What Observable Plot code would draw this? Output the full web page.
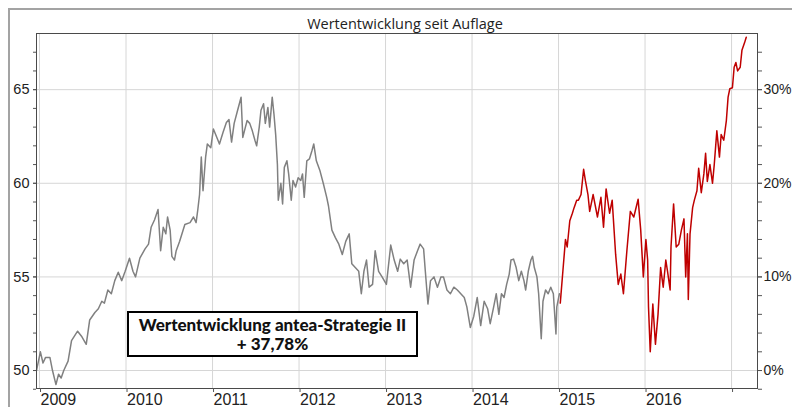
<!DOCTYPE html>
<html>
<head>
<meta charset="utf-8">
<script src="https://cdn.jsdelivr.net/npm/d3@7"></script>
<script src="https://cdn.jsdelivr.net/npm/@observablehq/plot@0.6"></script>
<style>
  html, body { margin: 0; padding: 0; background: #fff; }
  #wrap { position: relative; width: 792px; height: 407px; overflow: hidden; }
  #outer { position: absolute; left: 8px; top: 8px; width: 800px; height: 420px; border: 2px solid #a3a3a3; box-sizing: border-box; pointer-events: none; }
  #note { position: absolute; left: 127px; top: 311px; width: 291px; height: 46px; box-sizing: border-box;
          border: 2px solid #000; background: #fff; text-align: center;
          font-family: Lato, 'Open Sans', sans-serif; font-weight: 900; font-size: 17px; line-height: 19px; padding-top: 2px; color: #111; }
</style>
</head>
<body>
<div id="wrap"></div>
<script>
// ---- data ----
const titleText = "Wertentwicklung seit Auflage";
const noteLines = ["Wertentwicklung antea-Strategie II", "+ 37,78%"];

const yearTicks = [2009, 2010, 2011, 2012, 2013, 2014, 2015, 2016, 2017];
const yearLabels = ["2009", "2010", "2011", "2012", "2013", "2014", "2015", "2016", ""];
const valueTicks = [50, 55, 60, 65];
const pctLabels = ["0%", "10%", "20%", "30%"];
const minorTicks = [49, 50, 51, 52, 53, 54, 55, 56, 57, 58, 59, 60, 61, 62, 63, 64, 65, 66, 67];

const grayYears = [
  2008.965,2009.01,2009.04,2009.07,2009.12,2009.15,2009.19,2009.22,2009.25,2009.28,
  2009.33,2009.37,2009.44,2009.49,2009.54,2009.58,2009.64,2009.68,2009.72,2009.75,
  2009.79,2009.83,2009.87,2009.91,2009.95,2009.99,2010.04,2010.08,2010.11,2010.16,
  2010.22,2010.26,2010.29,2010.33,2010.37,2010.40,2010.43,2010.46,2010.48,2010.51,
  2010.53,2010.56,2010.58,2010.62,2010.68,2010.74,2010.78,2010.81,2010.83,2010.85,
  2010.87,2010.89,2010.92,2010.94,2010.98,2011.01,2011.05,2011.08,2011.12,2011.16,
  2011.19,2011.22,2011.25,2011.29,2011.31,2011.33,2011.35,2011.38,2011.40,2011.43,
  2011.46,2011.49,2011.51,2011.54,2011.56,2011.59,2011.61,2011.64,2011.66,2011.69,
  2011.71,2011.73,2011.75,2011.76,2011.79,2011.81,2011.83,2011.86,2011.88,2011.91,
  2011.93,2011.96,2011.99,2012.02,2012.04,2012.06,2012.09,2012.12,2012.15,2012.17,
  2012.20,2012.24,2012.28,2012.32,2012.34,2012.38,2012.42,2012.46,2012.50,2012.54,
  2012.58,2012.61,2012.65,2012.69,2012.72,2012.75,2012.78,2012.81,2012.85,2012.88,
  2012.92,2012.96,2013.01,2013.06,2013.10,2013.14,2013.17,2013.21,2013.25,2013.29,
  2013.33,2013.37,2013.40,2013.44,2013.46,2013.49,2013.52,2013.56,2013.60,2013.64,
  2013.67,2013.71,2013.75,2013.79,2013.83,2013.87,2013.91,2013.94,2013.98,2014.02,
  2014.06,2014.10,2014.14,2014.18,2014.21,2014.25,2014.28,2014.31,2014.34,2014.37,
  2014.40,2014.43,2014.45,2014.48,2014.51,2014.54,2014.57,2014.60,2014.62,2014.65,
  2014.68,2014.70,2014.72,2014.75,2014.77,2014.80,2014.82,2014.85,2014.88,2014.91,
  2014.94,2014.97,2014.98,2015.01
];
const grayValues = [
  50.0,51.0,50.4,50.7,50.7,50.0,49.25,49.8,49.6,50.0,
  50.5,51.6,52.1,51.8,51.4,52.7,53.1,53.3,53.7,53.6,
  54.3,54.1,54.8,55.25,54.8,55.3,56.0,55.3,55.0,56.0,
  56.5,56.75,57.65,58.05,58.6,56.4,57.65,57.3,58.2,57.5,
  56.1,55.9,56.4,56.9,57.8,57.9,58.2,57.9,58.6,59.4,
  61.4,59.6,61.4,62.1,61.9,62.9,62.45,62.1,62.7,63.25,
  63.4,62.2,63.2,63.9,64.25,64.6,62.45,63.0,63.35,63.2,
  62.8,62.3,62.0,63.0,63.9,64.25,63.2,64.05,63.0,64.6,
  63.7,62.6,61.0,59.1,60.0,58.9,60.85,61.2,60.5,59.1,
  60.15,59.8,60.3,60.15,60.5,59.25,61.2,61.3,61.75,62.1,
  61.2,60.7,60.0,59.25,58.8,57.5,57.1,56.75,56.2,56.9,
  57.3,55.7,55.5,55.3,54.1,55.3,55.9,54.45,54.6,56.4,
  55.3,55.0,54.6,56.7,55.9,55.3,55.95,55.7,55.9,54.45,
  55.9,56.4,56.75,56.5,55.3,53.55,54.8,55.0,54.45,55.0,
  55.0,54.3,54.1,54.45,54.3,54.1,53.9,53.4,52.3,52.9,
  53.9,52.4,53.7,53.3,52.5,53.4,54.1,53.0,54.1,53.9,
  54.6,55.15,55.9,55.95,55.5,54.8,55.3,54.8,54.3,55.3,
  55.9,56.1,55.5,55.0,54.1,51.7,53.7,54.3,54.1,54.45,
  54.1,51.95,53.4,54.1
];

const redYears = [
  2015.02,2015.05,2015.08,2015.10,2015.13,2015.16,2015.18,2015.21,2015.23,2015.26,
  2015.29,2015.31,2015.34,2015.36,2015.40,2015.45,2015.49,2015.52,2015.55,2015.59,
  2015.62,2015.66,2015.69,2015.72,2015.75,2015.79,2015.83,2015.87,2015.92,2015.95,
  2015.98,2016.01,2016.03,2016.04,2016.06,2016.09,2016.12,2016.15,2016.18,2016.21,
  2016.24,2016.26,2016.29,2016.30,2016.33,2016.36,2016.39,2016.42,2016.45,2016.47,
  2016.49,2016.50,2016.52,2016.55,2016.57,2016.60,2016.62,2016.65,2016.68,2016.70,
  2016.72,2016.75,2016.78,2016.80,2016.83,2016.86,2016.88,2016.91,2016.94,2016.96,
  2016.98,2017.01,2017.03,2017.05,2017.07,2017.10,2017.12,2017.15,2017.17
];
const redValues = [
  53.6,55.3,57.0,56.6,58.0,58.4,58.7,59.1,59.1,59.4,
  60.75,60.15,59.4,58.5,59.4,58.2,59.25,57.65,59.7,58.4,
  59.1,56.2,54.6,55.15,54.1,56.4,58.5,58.2,59.15,57.5,
  55.0,57.0,55.9,53.4,51.0,53.55,51.4,53.0,55.5,54.45,
  55.9,55.3,54.3,56.6,58.9,56.6,56.75,57.5,58.1,55.0,
  57.3,53.8,57.3,58.7,59.1,59.6,60.8,59.5,60.5,61.6,
  60.1,61.0,60.0,61.0,62.8,61.4,62.6,62.3,63.35,64.6,
  65.05,65.1,66.2,66.45,66.0,66.2,67.1,67.5,67.8
];

// ---- build tables ----
const gray = grayYears.map((x, i) => ({year: x, value: grayValues[i]}));
const red = redYears.map((x, i) => ({year: x, value: redValues[i]}));

const gridColor = "#d6d6d6";
const axisFont = "'Liberation Sans', Arial, sans-serif";

const chart = Plot.plot({
  width: 792,
  height: 407,
  marginLeft: 36,
  marginRight: 35,
  marginTop: 33,
  marginBottom: 19,
  style: {fontFamily: axisFont, fontSize: "14px", color: "#222", background: "transparent"},
  x: {type: "linear", domain: [2008.965, 2017.30], axis: null},
  y: {domain: [49.04, 68.0], axis: null},
  marks: [
    Plot.gridX(yearTicks, {stroke: gridColor, strokeOpacity: 1}),
    Plot.gridY(valueTicks, {stroke: gridColor, strokeOpacity: 1}),
    Plot.line(gray, {x: "year", y: "value", stroke: "#808080", strokeWidth: 1.5}),
    Plot.line(red, {x: "year", y: "value", stroke: "#bf0000", strokeWidth: 1.5}),
    Plot.frame({stroke: "#4a4a4a"}),
    Plot.axisY(minorTicks, {anchor: "left", tickSize: 3, tickFormat: () => "", label: null, stroke: "#555"}),
    Plot.axisY(valueTicks, {anchor: "left", tickSize: 3, tickPadding: 4, fontSize: 14.5, label: null, stroke: "#555",
      tickFormat: d => String(d)}),
    Plot.axisY(minorTicks, {anchor: "right", tickSize: 4, tickFormat: () => "", label: null, stroke: "#555"}),
    Plot.axisY(valueTicks, {anchor: "right", tickSize: 4, tickPadding: 2, fontSize: 14, label: null, stroke: "#555",
      tickFormat: d => pctLabels[valueTicks.indexOf(d)]}),
    Plot.axisX(yearTicks, {anchor: "bottom", tickSize: 4, tickPadding: 1, fontSize: 16, textAnchor: "start", dx: 1,
      label: null, stroke: "#555", tickFormat: d => yearLabels[yearTicks.indexOf(d)]}),
    Plot.text([titleText], {frameAnchor: "top", lineAnchor: "bottom", dy: -5, dx: 8, fontSize: 14.5,
      fontFamily: "'Open Sans', sans-serif", fill: "#222"})
  ]
});

const wrap = document.getElementById("wrap");
wrap.appendChild(chart);
chart.style.position = "absolute";
chart.style.left = "0px";
chart.style.top = "0px";

const outer = document.createElement("div");
outer.id = "outer";
wrap.appendChild(outer);

const note = document.createElement("div");
note.id = "note";
noteLines.forEach(t => { const d = document.createElement("div"); d.textContent = t; note.appendChild(d); });
wrap.appendChild(note);
</script>
</body>
</html>
